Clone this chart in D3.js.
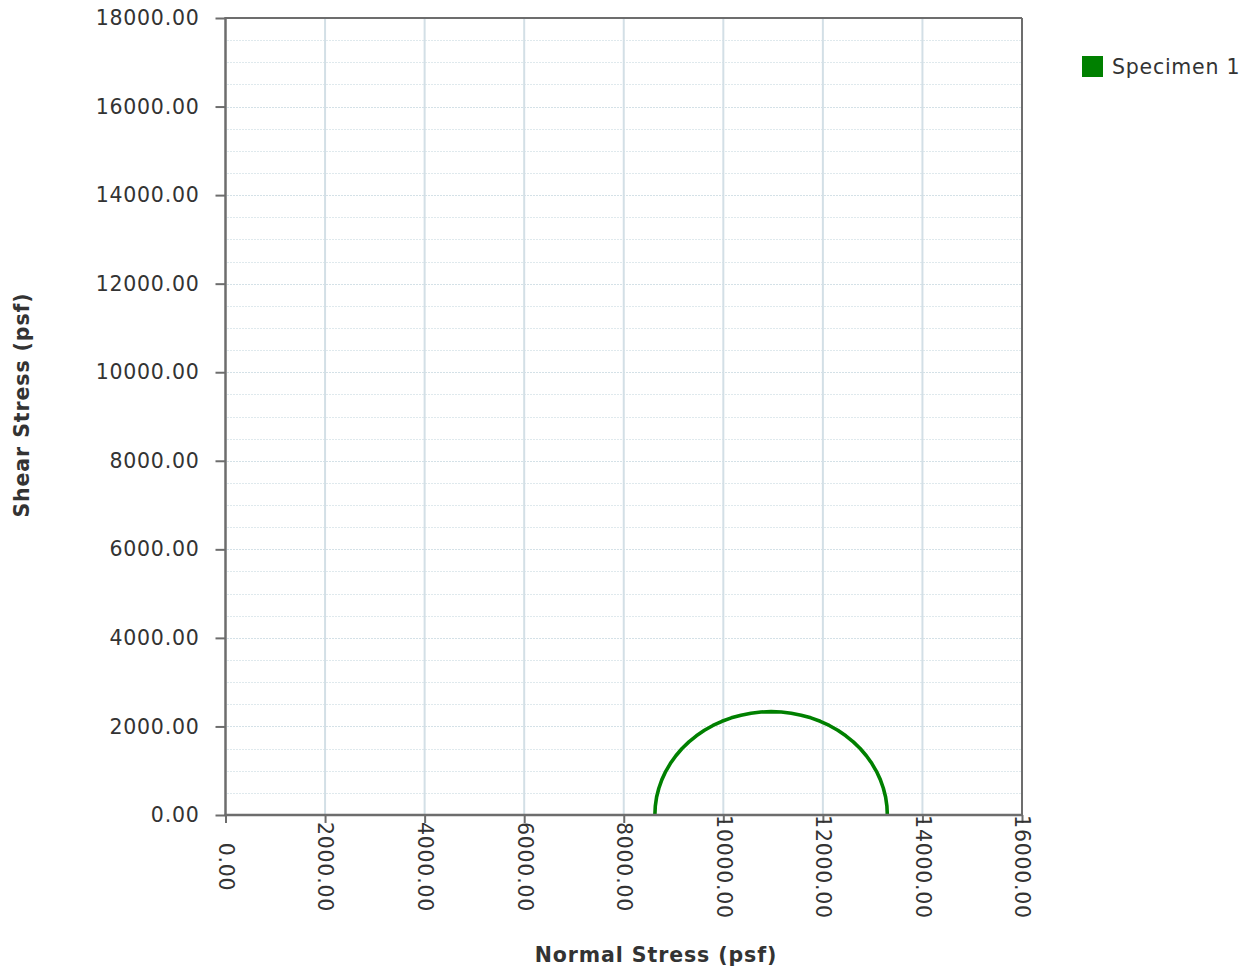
<!DOCTYPE html>
<html>
<head>
<meta charset="utf-8">
<script src="https://cdn.jsdelivr.net/npm/d3@7"></script>
<style>
  body { margin: 0; background: #fff; }
  svg { display: block; font-family: "DejaVu Sans", Verdana, sans-serif; }
</style>
</head>
<body>
<svg id="chart" width="1256" height="970"></svg>
<script>
// ---- data ----
const seriesName = "Specimen 1";
const normalStress = [8625, 8634, 8660, 8705, 8766, 8844, 8938, 9047, 9171, 9309, 9459, 9621, 9792, 9973, 10161, 10356, 10555, 10756, 10960, 11164, 11365, 11564, 11759, 11947, 12128, 12299, 12461, 12611, 12749, 12873, 12982, 13076, 13154, 13215, 13260, 13286, 13295];
const shearStress  = [0, 204, 405, 604, 799, 987, 1168, 1339, 1501, 1651, 1789, 1913, 2022, 2116, 2194, 2255, 2299, 2326, 2335, 2326, 2299, 2255, 2194, 2116, 2022, 1913, 1789, 1651, 1501, 1339, 1168, 987, 799, 604, 405, 204, 0];
const xTicks = [0, 2000, 4000, 6000, 8000, 10000, 12000, 14000, 16000];
const yTicks = [0, 2000, 4000, 6000, 8000, 10000, 12000, 14000, 16000, 18000];
const yMinorTicks = d3.range(500, 18000, 500);
const xTitle = "Normal Stress (psf)";
const yTitle = "Shear Stress (psf)";

// ---- layout ----
const svg = d3.select("#chart");
const pLeft = 225.5, pRight = 1022, pTop = 18, pBottom = 815;
const x = d3.scaleLinear().domain([0, 16000]).range([pLeft, pRight]);
const y = d3.scaleLinear().domain([0, 18000]).range([pBottom, pTop]);
const axisColor = "#6d6d6d";
const fontSize = 20.5;
const ls = "0.75px";
const lsBold = "0.9px";

// horizontal dotted grid
svg.append("g").selectAll("line").data(yMinorTicks).join("line")
  .attr("x1", pLeft + 2).attr("x2", pRight - 1)
  .attr("y1", d => Math.round(y(d)) + 0.5).attr("y2", d => Math.round(y(d)) + 0.5)
  .attr("stroke", d => d % 2000 === 0 ? "#a9c3cf" : "#bfd2db")
  .attr("stroke-width", 1)
  .attr("stroke-dasharray", "1,2");

// vertical grid
svg.append("g").selectAll("line").data(xTicks.filter(d => d > 0 && d < 16000)).join("line")
  .attr("x1", d => x(d)).attr("x2", d => x(d))
  .attr("y1", pTop + 1).attr("y2", pBottom)
  .attr("stroke", "#d3dfe6")
  .attr("stroke-width", 2);

// series
const pts = normalStress.map((v, i) => [v, shearStress[i]]);
svg.append("path")
  .datum(pts)
  .attr("fill", "none")
  .attr("stroke", "#008000")
  .attr("stroke-width", 3.6)
  .attr("stroke-linejoin", "round")
  .attr("d", d3.line().x(d => x(d[0])).y(d => y(d[1])));

// frame (top & right)
svg.append("line").attr("x1", pLeft).attr("x2", pRight).attr("y1", pTop).attr("y2", pTop)
  .attr("stroke", axisColor).attr("stroke-width", 2);
svg.append("line").attr("x1", pRight).attr("x2", pRight).attr("y1", pTop).attr("y2", pBottom)
  .attr("stroke", axisColor).attr("stroke-width", 2);

// left axis
const yAxis = svg.append("g").attr("transform", `translate(${pLeft},0)`)
  .call(d3.axisLeft(y).tickValues(yTicks).tickSize(10).tickPadding(16).tickFormat(d => d3.format(".2f")(d)));
yAxis.select(".domain").attr("stroke", axisColor).attr("stroke-width", 2.5).attr("d", `M0,${pTop - 1}V${pBottom + 1}`);
yAxis.selectAll(".tick line").attr("stroke", axisColor).attr("stroke-width", 2);
yAxis.selectAll(".tick text").attr("fill", "#333").style("font-size", fontSize + "px")
  .style("letter-spacing", ls)
  .style("font-family", "DejaVu Sans, Verdana, sans-serif");

// bottom axis
const xAxis = svg.append("g").attr("transform", `translate(0,${pBottom})`)
  .call(d3.axisBottom(x).tickValues(xTicks).tickSize(8).tickFormat(d => d3.format(".2f")(d)));
xAxis.select(".domain").attr("stroke", axisColor).attr("stroke-width", 2.5).attr("d", `M${pLeft - 1},0H${pRight + 1}`);
xAxis.selectAll(".tick line").attr("stroke", axisColor).attr("stroke-width", 2);
xAxis.selectAll(".tick text")
  .attr("fill", "#333")
  .style("font-size", fontSize + "px")
  .style("letter-spacing", ls)
  .style("font-family", "DejaVu Sans, Verdana, sans-serif")
  .attr("text-anchor", "middle")
  .attr("dy", "0.35em")
  .attr("y", 0)
  .attr("transform", "translate(0,52) rotate(90)");

// titles
svg.append("text")
  .attr("x", 656).attr("y", 962)
  .attr("text-anchor", "middle")
  .attr("font-weight", "bold")
  .attr("fill", "#333")
  .style("font-size", fontSize + "px")
  .style("letter-spacing", lsBold)
  .text(xTitle);
svg.append("text")
  .attr("transform", "translate(29,405) rotate(-90)")
  .attr("text-anchor", "middle")
  .attr("font-weight", "bold")
  .attr("fill", "#333")
  .style("font-size", fontSize + "px")
  .style("letter-spacing", lsBold)
  .text(yTitle);

// legend
const lg = svg.append("g").attr("transform", "translate(1082,56)");
lg.append("rect").attr("width", 21).attr("height", 21).attr("fill", "#008000");
lg.append("text").attr("x", 30).attr("y", 10.5).attr("dy", "0.35em")
  .attr("fill", "#333").style("font-size", fontSize + "px").style("letter-spacing", ls).text(seriesName);
</script>
</body>
</html>
